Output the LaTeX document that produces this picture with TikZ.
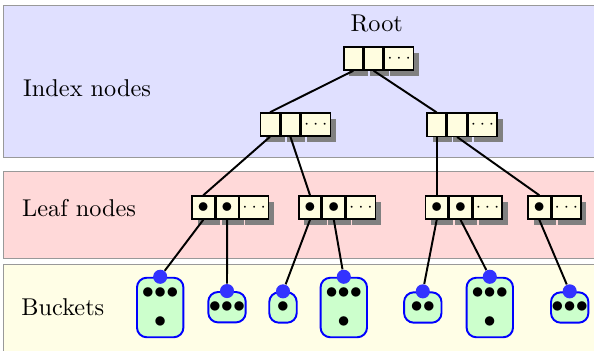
\documentclass[tikz,border=0pt]{standalone}
\usetikzlibrary{positioning,shadows}
\tikzset{
  band/.style={draw=gray!80, fill=#1},
  cell/.style={draw, semithick, fill=yellow!12, inner sep=0pt, minimum height=9.5pt,
    drop shadow={shadow xshift=2.3pt, shadow yshift=-2.3pt, fill=black!50, opacity=1}},
  keycell/.style={cell, minimum width=7.8pt},
  ptrcell/.style={cell, minimum width=9.2pt, font=\small},
  morecell/.style={cell, minimum width=11.9pt, font=\scriptsize},
  bucket/.style={draw=blue, line width=0.8pt, fill=green!20, rounded corners=4pt, inner sep=0pt, align=center},
  tallbucket/.style={bucket, minimum width=19.1pt, minimum height=24.5pt},
  smallbucket/.style={bucket, minimum width=15.4pt, minimum height=12.5pt},
  onebucket/.style={bucket, minimum width=11.3pt, minimum height=12.5pt},
  hook/.style={circle, fill=blue!80, inner sep=0pt, minimum size=5.8pt},
  link/.style={thick},
  lbl/.style={anchor=base west, inner sep=0pt}
}
\begin{document}
\begin{tikzpicture}[x=0.4115pt, y=-0.4115pt]
\clip (0,0) rectangle (594,350);
% bands
\draw[band=blue!12] (3.5,5) rectangle (620,157);
\draw[band=red!15] (3.5,171) rectangle (620,258);
\draw[band=yellow!10] (3.5,264) rectangle (620,370);
\node[lbl] (idxlbl) at (22.7,96.7) {Index nodes};
\node[lbl] (leaflbl) at (21.7,216) {Leaf nodes};
\node[lbl] (bktlbl) at (21,315.5) {Buckets};
% root
\node[anchor=base, inner sep=0pt] (rootlbl) at (376.7,31.7) {Root};
\node[keycell] (rt1) at (353.3,58.5) {};
\node[keycell, right=0pt of rt1] (rt2) {};
\node[morecell, right=0pt of rt2] (rt3) {$\cdots$};
% index nodes
\node[keycell] (ia1) at (270,124.5) {};
\node[keycell, right=0pt of ia1] (ia2) {};
\node[morecell, right=0pt of ia2] (ia3) {$\cdots$};
\node[keycell] (ib1) at (436.7,124.7) {};
\node[keycell, right=0pt of ib1] (ib2) {};
\node[morecell, right=0pt of ib2] (ib3) {$\cdots$};
% leaf nodes
\node[ptrcell] (la1) at (203.3,207.5) {$\bullet$};
\node[ptrcell, right=0pt of la1] (la2) {$\bullet$};
\node[morecell, right=0pt of la2] (la3) {$\cdots$};
\node[ptrcell] (lb1) at (310,207.5) {$\bullet$};
\node[ptrcell, right=0pt of lb1] (lb2) {$\bullet$};
\node[morecell, right=0pt of lb2] (lb3) {$\cdots$};
\node[ptrcell] (lc1) at (436.7,207.5) {$\bullet$};
\node[ptrcell, right=0pt of lc1] (lc2) {$\bullet$};
\node[morecell, right=0pt of lc2] (lc3) {$\cdots$};
\node[ptrcell] (ld1) at (539.3,207.5) {$\bullet$};
\node[morecell, right=0pt of ld1] (ld2) {$\cdots$};
% buckets
\node[tallbucket] (bk1) at (160.2,307.5) {${\bullet}{\bullet}{\bullet}$\\${\bullet}$};
\node[smallbucket] (bk2) at (227,307.2) {${\bullet}{\bullet}{\bullet}$};
\node[onebucket] (bk3) at (283,307.5) {${\bullet}$};
\node[tallbucket] (bk4) at (343.8,307.5) {${\bullet}{\bullet}{\bullet}$\\${\bullet}$};
\node[smallbucket] (bk5) at (422.8,307.5) {${\bullet}{\bullet}$};
\node[tallbucket] (bk6) at (489.8,307.5) {${\bullet}{\bullet}{\bullet}$\\${\bullet}$};
\node[smallbucket] (bk7) at (569.7,307.5) {${\bullet}{\bullet}{\bullet}$};
\foreach \b in {1,...,7}
  \node[hook] (bk\b t) at (bk\b.north) {};
% links
\draw[link] (rt1.south) -- (ia1.north);
\draw[link] (rt2.south) -- (ib1.north);
\draw[link] (ia1.south) -- (la1.north);
\draw[link] (ia2.south) -- (lb1.north);
\draw[link] (ib1.south) -- (lc1.north);
\draw[link] (ib2.south) -- (ld1.north);
\draw[link] (la1.south) -- (bk1t);
\draw[link] (la2.south) -- (bk2t);
\draw[link] (lb1.south) -- (bk3t);
\draw[link] (lb2.south) -- (bk4t);
\draw[link] (lc1.south) -- (bk5t);
\draw[link] (lc2.south) -- (bk6t);
\draw[link] (ld1.south) -- (bk7t);
\end{tikzpicture}
\end{document}
